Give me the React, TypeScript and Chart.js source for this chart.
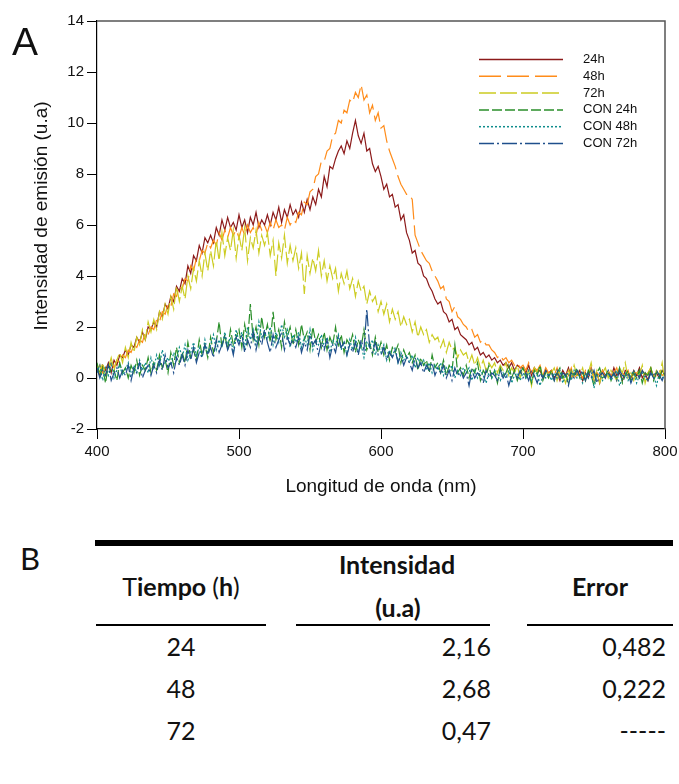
import React, { useEffect, useRef } from "react";
import { Chart, registerables } from "chart.js";

Chart.register(...registerables);

// ---------------- Data ----------------
const WL_START = 400;
const WL_STEP = 2;

const SERIES_LABELS = ["24h", "48h", "72h", "CON 24h", "CON 48h", "CON 72h"];

const H24 = [
  0.4, 0.1, 0.5, 0.3, 0.6, 0.2, 0.7, 0.5, 0.9, 0.8,
  1.1, 0.9, 1.3, 1.2, 1.6, 1.4, 1.8, 1.5, 2.0, 1.9,
  2.2, 2.0, 2.6, 2.4, 2.9, 2.7, 3.2, 3.0, 3.6, 3.4,
  3.9, 3.7, 4.4, 4.1, 4.8, 4.6, 5.2, 4.9, 5.5, 5.3,
  5.6, 5.3, 5.9, 5.6, 6.2, 5.8, 6.3, 5.9, 6.1, 5.8,
  6.4, 5.9, 6.2, 5.7, 6.3, 6.0, 6.5, 5.9, 6.2, 6.0,
  6.4, 6.0, 6.5, 6.2, 6.7, 6.1, 6.6, 6.3, 6.8, 6.4,
  6.6, 6.3, 6.9, 6.5, 7.0, 6.6, 7.1, 6.8, 7.4, 7.1,
  7.9, 7.5, 8.3, 8.2, 8.6, 8.9, 9.1, 8.8, 9.3, 9.0,
  9.6, 10.1, 9.5, 9.2, 9.6, 8.9, 9.0, 8.4, 8.1, 8.3,
  7.9, 7.4, 7.6, 7.1, 7.2, 6.7, 6.8, 6.2, 6.4, 5.7,
  5.4, 4.9, 5.0, 4.5, 4.4, 4.0, 3.9, 3.6, 3.4, 3.1,
  2.9, 3.0, 2.6, 2.5, 2.2, 2.3, 1.9, 2.0, 1.7, 1.6,
  1.5, 1.3, 1.4, 1.1, 1.2, 0.9, 1.0, 0.8, 0.9, 0.7,
  0.8, 0.6, 0.7, 0.5, 0.6, 0.4, 0.6, 0.3, 0.5, 0.4,
  0.4, 0.2, 0.5, 0.1, 0.4, 0.2, 0.3, 0.0, 0.3, 0.2,
  0.3, 0.0, 0.2, -0.1, 0.3, 0.1, 0.4, 0.0, 0.2, 0.1,
  0.3, -0.1, 0.2, 0.0, 0.4, 0.1, 0.2, -0.2, 0.3, 0.1,
  0.2, 0.0, 0.4, 0.1, 0.2, -0.1, 0.3, 0.2, 0.0, 0.3,
  0.1, 0.4, 0.0, 0.2, -0.1, 0.3, 0.1, 0.2, 0.0, 0.3,
  0.1,
];

const H48 = [
  0.3, 0.5, 0.2, 0.4, 0.3, 0.6, 0.4, 0.7, 0.6, 0.9,
  0.8, 1.1, 1.0, 1.3, 1.2, 1.5, 1.4, 1.8, 1.7, 2.0,
  1.9, 2.3, 2.2, 2.6, 2.5, 2.9, 2.8, 3.3, 3.2, 3.6,
  3.5, 3.9, 3.8, 4.4, 4.2, 4.7, 4.6, 5.0, 4.9, 5.3,
  5.1, 5.4, 5.2, 5.7, 5.4, 5.8, 5.5, 5.9, 5.6, 5.8,
  5.5, 5.9, 5.6, 6.0, 5.7, 5.9, 5.6, 6.1, 5.8, 6.0,
  5.7, 6.1, 5.8, 6.2, 5.9, 6.0, 5.8, 6.3, 6.0, 6.2,
  6.1, 6.5, 6.4, 6.9, 6.8, 7.3, 7.4, 7.9, 8.0, 8.5,
  8.5, 8.9, 9.0, 9.5, 9.6, 10.1, 10.0, 10.5, 10.4, 10.9,
  10.8, 11.2, 11.0, 11.5, 10.9, 11.1, 10.4, 10.7, 10.1, 10.4,
  9.8, 9.9, 9.3, 8.9, 8.6, 8.3, 7.9, 7.6, 7.4, 7.2,
  7.2, 7.0, 5.6, 5.3, 5.0, 4.8, 4.6, 4.5, 4.2, 4.0,
  3.8, 3.5, 3.6, 3.1, 3.0, 2.6, 2.8, 2.4, 2.3, 2.1,
  2.0, 1.8, 1.9, 1.6, 1.7, 1.4, 1.5, 1.3, 1.3, 1.1,
  1.0, 0.8, 0.9, 0.7, 0.8, 0.6, 0.7, 0.5, 0.6, 0.4,
  0.5, 0.3, 0.6, 0.2, 0.4, 0.3, 0.5, 0.1, 0.4, 0.2,
  0.3, 0.1, 0.4, 0.0, 0.2, 0.3, 0.1, 0.4, -0.1, 0.2,
  0.2, 0.0, 0.3, 0.1, 0.4, -0.1, 0.2, 0.1, 0.3, 0.0,
  0.3, 0.1, 0.2, 0.4, 0.0, 0.2, 0.1, 0.3, -0.1, 0.2,
  0.2, 0.0, 0.3, 0.1, 0.2, 0.4, 0.0, 0.1, 0.3, 0.1,
  0.2,
];

const H72 = [
  0.5, 0.2, 0.6, 0.1, 0.4, 0.8, 0.3, 0.7, 1.0, 0.6,
  1.2, 0.8, 1.4, 1.0, 1.6, 1.3, 1.9, 1.5, 2.2, 1.8,
  2.3, 1.9, 2.6, 2.3, 2.9, 2.5, 3.2, 2.7, 3.6, 3.0,
  3.6, 3.1, 4.0, 3.5, 4.3, 3.8, 4.6, 4.0, 4.9, 4.2,
  5.0, 4.4, 5.4, 4.6, 5.7, 4.8, 5.5, 5.0, 5.8, 4.7,
  5.6, 5.0, 5.9, 4.6, 5.5, 5.1, 5.8, 4.9, 5.6, 5.2,
  5.7, 4.8, 5.4, 4.0, 5.3, 4.7, 5.6, 4.5, 5.2, 4.6,
  5.1, 4.3, 4.9, 3.3, 4.8, 4.1, 4.7, 4.2, 5.0, 4.0,
  4.6, 3.8, 4.4, 3.9, 4.3, 3.4, 4.1, 3.7, 4.2, 3.5,
  3.9, 3.2, 3.8, 3.4, 3.6, 2.9, 3.4, 3.0, 3.2, 2.6,
  3.0, 2.5, 2.9, 2.2, 2.7, 2.3, 2.6, 2.0, 2.4, 2.1,
  2.3, 1.8, 2.2, 1.6, 2.0, 1.7, 1.9, 1.4, 1.7, 1.5,
  1.6, 1.2, 1.5, 1.0, 1.4, 1.1, 1.2, 0.8, 1.1, 0.9,
  1.0, 0.6, 0.9, 0.5, 0.8, 0.4, 0.7, 0.3, 0.6, 0.4,
  0.6, 0.2, 0.5, 0.3, 0.6, 0.1, 0.4, 0.2, 0.5, 0.0,
  0.4, 0.1, 0.3, -0.3, 0.4, 0.2, 0.5, 0.0, 0.3, 0.1,
  0.2, 0.4, -0.1, 0.3, 0.1, -0.2, 0.3, 0.0, 0.5, 0.1,
  0.1, 0.4, -0.1, 0.2, 0.6, 0.0, 0.3, -0.2, 0.2, 0.4,
  0.0, 0.3, 0.1, -0.1, 0.4, 0.2, 0.6, 0.0, 0.2, -0.1,
  0.3, 0.1, 0.5, -0.2, 0.2, 0.4, 0.0, 0.3, 0.1, 0.6,
  -0.2,
];

const CON24 = [
  0.6, 0.1, 0.4, -0.2, 0.5, 0.2, 0.3, -0.1, 0.6, 0.2,
  0.4, 0.0, 0.5, 0.2, 0.7, 0.1, 0.5, 0.3, 0.8, 0.2,
  0.6, 0.3, 0.9, 0.4, 0.7, 0.2, 1.0, 0.5, 1.2, 0.6,
  1.0, 0.6, 1.4, 0.8, 1.1, 0.7, 1.5, 0.9, 1.3, 0.8,
  1.6, 1.0, 1.4, 2.2, 1.2, 1.7, 1.1, 1.9, 1.3, 1.6,
  1.9, 1.2, 2.1, 1.4, 2.9, 1.5, 2.0, 1.3, 2.4, 1.6,
  2.1, 1.4, 2.6, 1.5, 1.9, 1.2, 2.2, 1.6, 2.0, 1.3,
  1.9, 1.3, 2.1, 1.5, 1.8, 1.1, 2.0, 1.4, 1.7, 1.2,
  1.8, 1.1, 1.6, 1.3, 2.0, 1.2, 1.7, 1.0, 1.5, 1.3,
  1.7, 1.0, 1.5, 1.2, 1.9, 1.1, 1.4, 0.9, 1.6, 1.0,
  1.4, 0.9, 1.3, 0.7, 1.2, 1.0, 1.3, 0.6, 1.1, 0.8,
  1.0, 0.6, 0.9, 0.3, 0.8, 0.5, 0.7, 0.2, 0.9, 0.4,
  0.6, 0.2, 0.7, 0.1, 0.5, 0.3, 1.3, 0.2, 0.4, 0.1,
  0.5, 0.0, 0.4, 0.2, 0.6, -0.1, 0.3, 0.1, 0.5, 0.0,
  0.3, -0.2, 0.4, 0.1, 0.2, 0.5, 0.0, 0.3, -0.1, 0.2,
  0.4, 0.0, 0.2, -0.2, 0.3, 0.1, 0.5, -0.1, 0.2, 0.0,
  0.3, -0.1, 0.2, 0.4, 0.0, 0.2, -0.2, 0.3, 0.1, 0.4,
  0.0, 0.2, -0.1, 0.3, 0.1, -0.3, 0.2, 0.4, 0.0, 0.1,
  0.3, -0.1, 0.2, 0.0, 0.4, -0.2, 0.1, 0.3, -0.1, 0.2,
  0.0, 0.3, -0.2, 0.2, 0.1, 0.4, -0.1, 0.2, 0.0, 0.3,
  0.1,
];

const CON48 = [
  0.2, 0.5, -0.1, 0.4, 0.1, 0.6, 0.0, 0.3, 0.5, 0.1,
  0.3, 0.6, 0.1, 0.5, 0.2, 0.7, 0.3, 0.6, 0.2, 0.8,
  0.4, 0.9, 0.5, 1.1, 0.6, 0.8, 0.5, 1.0, 0.7, 1.2,
  0.8, 1.3, 0.7, 1.0, 1.4, 0.9, 1.2, 0.8, 1.5, 1.0,
  1.3, 1.7, 1.1, 1.5, 1.2, 1.8, 1.3, 1.6, 1.0, 1.9,
  1.4, 1.8, 1.2, 2.0, 1.5, 1.9, 1.3, 2.2, 1.6, 1.8,
  1.5, 2.0, 1.3, 1.8, 1.4, 2.1, 1.6, 1.9, 1.2, 1.7,
  1.4, 1.8, 1.2, 1.6, 1.3, 1.9, 1.1, 1.5, 1.3, 1.7,
  1.2, 1.6, 1.0, 1.5, 1.3, 1.7, 1.1, 1.4, 0.9, 1.5,
  1.1, 1.6, 1.0, 1.3, 0.8, 1.4, 1.2, 1.5, 0.9, 1.3,
  1.0, 1.3, 0.7, 1.1, 0.8, 1.2, 0.6, 1.0, 0.7, 0.9,
  0.6, 0.9, 0.4, 0.8, 0.5, 0.7, 0.3, 0.6, 0.2, 0.5,
  0.3, 0.6, 0.1, 0.4, 0.2, 0.5, 0.0, 0.3, 0.1, 0.4,
  0.2, 0.4, -0.1, 0.3, 0.0, 0.3, 0.1, -0.2, 0.2, 0.0,
  0.3, 0.1, -0.1, 0.2, 0.0, 0.3, -0.2, 0.1, 0.2, -0.1,
  0.2, 0.0, 0.3, -0.1, 0.1, 0.2, -0.3, 0.1, 0.0, 0.2,
  -0.1, 0.2, 0.0, 0.3, -0.2, 0.1, 0.2, -0.1, 0.3, 0.0,
  0.1, -0.2, 0.2, 0.0, 0.3, -0.4, 0.1, 0.2, -0.1, 0.1,
  0.2, -0.1, 0.1, 0.3, -0.3, 0.0, 0.2, -0.1, 0.1, 0.3,
  -0.2, 0.1, 0.2, 0.0, -0.1, 0.2, 0.1, -0.3, 0.2, 0.0,
  0.1,
];

const CON72 = [
  0.4, 0.0, 0.3, 0.1, 0.5, -0.1, 0.2, 0.4, 0.0, 0.3,
  0.1, 0.5, -0.1, 0.4, 0.2, 0.6, 0.0, 0.3, 0.5, 0.1,
  0.5, 0.2, 0.7, 0.3, 0.9, 0.4, 0.6, 0.2, 0.8, 0.5,
  0.9, 0.5, 1.1, 0.7, 1.2, 0.6, 1.0, 0.8, 1.3, 0.9,
  1.2, 0.8, 1.5, 1.0, 1.3, 1.6, 1.1, 1.4, 0.9, 1.6,
  1.3, 1.7, 1.0, 1.5, 1.2, 1.8, 1.1, 1.6, 1.3, 1.9,
  1.4, 1.0, 1.7, 1.2, 1.5, 1.8, 1.1, 1.6, 1.3, 1.5,
  1.2, 1.6, 1.0, 1.4, 1.1, 1.7, 1.3, 1.5, 0.9, 1.4,
  1.1, 1.5, 0.8, 1.3, 1.0, 1.6, 1.2, 1.4, 0.9, 1.3,
  1.0, 1.4, 0.9, 1.5, 1.1, 2.7, 1.2, 1.0, 1.4, 0.9,
  0.9, 1.2, 0.7, 1.0, 0.8, 1.1, 0.6, 0.9, 0.5, 0.8,
  0.6, 0.3, 0.8, 0.4, 0.6, 0.2, 0.5, 0.3, 0.6, 0.1,
  0.4, 0.2, 0.5, 0.0, 0.3, -0.1, 0.4, 0.1, 0.3, 0.0,
  0.2, -0.3, 0.3, 0.0, 0.2, 0.1, -0.2, 0.3, 0.0, 0.2,
  0.1, -0.1, 0.3, 0.0, 0.2, -0.3, 0.1, 0.2, 0.0, 0.3,
  0.0, 0.2, -0.1, 0.3, 0.1, -0.2, 0.2, 0.0, 0.3, 0.1,
  0.2, -0.1, 0.3, 0.0, 0.2, 0.1, -0.3, 0.2, 0.0, 0.3,
  0.1, 0.3, -0.1, 0.2, 0.0, 0.3, -0.2, 0.1, 0.2, 0.0,
  0.3, 0.0, 0.2, -0.1, 0.3, 0.1, 0.0, 0.2, -0.2, 0.1,
  0.2, 0.0, 0.3, 0.1, -0.1, 0.2, 0.0, 0.3, 0.1, -0.1,
  0.2,
];

const SERIES_VALUES = [H24, H48, H72, CON24, CON48, CON72];
const SERIES_COLORS = ["#8c1a1a", "#ff8c1a", "#cccc22", "#2a8f2a", "#0f8c8c", "#1f4f8c"];
const SERIES_DASHES: number[][] = [[], [22, 6], [17, 4], [10, 3], [2, 2], [15, 3, 2, 3]];

const WAVELENGTHS = H24.map((_, i) => WL_START + WL_STEP * i);

const X_TICKS = [400, 500, 600, 700, 800];
const Y_TICKS = [-2, 0, 2, 4, 6, 8, 10, 12, 14];
const X_TITLE = "Longitud de onda (nm)";
const Y_TITLE = "Intensidad de emisión (u.a)";

const TABLE_TIMES = ["24", "48", "72"];
const TABLE_INTENSITY = ["2,16", "2,68", "0,47"];
const TABLE_ERROR = ["0,482", "0,222", "-----"];

// ---------------- Styles ----------------
const SANS = '"Liberation Sans", Arial, Helvetica, sans-serif';
const TABLE_FONT = 'Lato, "Open Sans", "Liberation Sans", sans-serif';

const decorPlugin = {
  id: "decor",
  afterDraw(chart: any) {
    const { ctx, chartArea: a } = chart;
    ctx.save();
    // top & right frame
    ctx.strokeStyle = "#555";
    ctx.lineWidth = 1.5;
    ctx.beginPath();
    ctx.moveTo(a.left, a.top);
    ctx.lineTo(a.right, a.top);
    ctx.lineTo(a.right, a.bottom);
    ctx.stroke();
    // legend
    chart.data.datasets.forEach((ds: any, i: number) => {
      const y = a.top + 38.5 + i * 16.8;
      ctx.strokeStyle = ds.borderColor;
      ctx.lineWidth = 1.5;
      ctx.setLineDash(ds.borderDash || []);
      ctx.beginPath();
      ctx.moveTo(a.left + 382, y);
      ctx.lineTo(a.left + 466, y);
      ctx.stroke();
      ctx.setLineDash([]);
      ctx.fillStyle = "#111";
      ctx.font = `13px ${SANS}`;
      ctx.textAlign = "left";
      ctx.textBaseline = "middle";
      ctx.fillText(ds.label, a.left + 486, y);
    });
    // y title
    ctx.translate(42, 216);
    ctx.rotate(-Math.PI / 2);
    ctx.fillStyle = "#111";
    ctx.font = `19px ${SANS}`;
    ctx.textAlign = "center";
    ctx.textBaseline = "middle";
    ctx.fillText(Y_TITLE, 0, 0);
    ctx.restore();
  },
};

export default function App() {
  const canvasRef = useRef<HTMLCanvasElement>(null);

  useEffect(() => {
    const datasets = SERIES_LABELS.map((label, s) => ({
      label,
      data: SERIES_VALUES[s].map((v, i) => ({ x: WAVELENGTHS[i], y: v })),
      borderColor: SERIES_COLORS[s],
      backgroundColor: SERIES_COLORS[s],
      borderDash: SERIES_DASHES[s],
      borderWidth: 1.2,
      pointRadius: 0,
      tension: 0,
      fill: false,
      order: SERIES_LABELS.length - 1 - s,
    }));

    const chart = new Chart(canvasRef.current as HTMLCanvasElement, {
      type: "line",
      data: { datasets },
      options: {
        responsive: false,
        devicePixelRatio: 1,
        animation: false,
        layout: { padding: { left: 0, right: 14, top: 21, bottom: 0 } },
        plugins: { legend: { display: false }, tooltip: { enabled: false } },
        scales: {
          x: {
            type: "linear",
            min: 400,
            max: 800,
            afterBuildTicks: (scale: any) => {
              scale.ticks = X_TICKS.map((v) => ({ value: v }));
            },
            afterFit: (scale: any) => {
              scale.height = 71;
              scale.paddingLeft = 0;
              scale.paddingRight = 0;
            },
            ticks: {
              color: "#111",
              font: { family: SANS, size: 15 },
              padding: 4,
              maxRotation: 0,
              callback: (v: any) => String(v),
            },
            grid: {
              drawOnChartArea: false,
              drawTicks: true,
              tickLength: 10,
              tickColor: "#000",
              color: "#000",
            },
            border: { display: true, color: "#000", width: 1.2 },
            title: {
              display: true,
              text: X_TITLE,
              color: "#111",
              font: { family: SANS, size: 19 },
              padding: { top: 4, bottom: 2 },
            },
          },
          y: {
            type: "linear",
            min: -2,
            max: 14,
            afterBuildTicks: (scale: any) => {
              scale.ticks = Y_TICKS.map((v) => ({ value: v }));
            },
            afterFit: (scale: any) => {
              scale.width = 97;
              scale.paddingTop = 0;
              scale.paddingBottom = 0;
            },
            ticks: {
              color: "#111",
              font: { family: SANS, size: 15 },
              padding: 3,
              callback: (v: any) => String(v),
            },
            grid: {
              drawOnChartArea: false,
              drawTicks: true,
              tickLength: 10,
              tickColor: "#000",
              color: "#000",
            },
            border: { display: true, color: "#000", width: 1.2 },
          },
        },
      },
      plugins: [decorPlugin],
    } as any);

    return () => chart.destroy();
  }, []);

  const abs = (extra: React.CSSProperties): React.CSSProperties => ({
    position: "absolute",
    whiteSpace: "nowrap",
    lineHeight: 1,
    color: "#111",
    ...extra,
  });

  const rowCenters = [647, 689, 731];
  const TF = 25;

  return (
    <div
      style={{
        position: "absolute",
        left: 0,
        top: 0,
        width: 679,
        height: 784,
        background: "#fff",
        overflow: "hidden",
      }}
    >
      <canvas
        ref={canvasRef}
        width={679}
        height={500}
        style={{ position: "absolute", left: 0, top: 0, width: 679, height: 500, display: "block" }}
      />
      <div style={abs({ left: 12, top: 22, fontFamily: SANS, fontSize: 39 })}>A</div>

      <div style={abs({ left: 20, top: 543, fontFamily: TABLE_FONT, fontSize: 31 })}>B</div>

      <div style={{ position: "absolute", left: 95, top: 540, width: 578, height: 6, background: "#000" }} />
      <div style={{ position: "absolute", left: 96, top: 624, width: 170, height: 2, background: "#000" }} />
      <div style={{ position: "absolute", left: 296, top: 624, width: 194, height: 2, background: "#000" }} />
      <div style={{ position: "absolute", left: 527, top: 624, width: 146, height: 2, background: "#000" }} />

      <div
        style={abs({
          left: 181,
          top: 574,
          transform: "translateX(-50%)",
          fontFamily: TABLE_FONT,
          fontSize: TF,
          fontWeight: 700,
        })}
      >
        <span style={{ fontWeight: 400 }}>T</span>iempo <span style={{ fontWeight: 400 }}>(</span>h
        <span style={{ fontWeight: 400 }}>)</span>
      </div>
      <div
        style={abs({
          left: 397,
          top: 552,
          transform: "translateX(-50%)",
          fontFamily: TABLE_FONT,
          fontSize: TF,
          fontWeight: 700,
        })}
      >
        Intensidad
      </div>
      <div
        style={abs({
          left: 398,
          top: 595,
          transform: "translateX(-50%)",
          fontFamily: TABLE_FONT,
          fontSize: TF,
          fontWeight: 700,
        })}
      >
        (u.a)
      </div>
      <div
        style={abs({
          left: 600,
          top: 574,
          transform: "translateX(-50%)",
          fontFamily: TABLE_FONT,
          fontSize: TF,
          fontWeight: 700,
        })}
      >
        Error
      </div>

      {TABLE_TIMES.map((t, i) => (
        <React.Fragment key={t}>
          <div
            style={abs({
              left: 181,
              top: rowCenters[i] - 13,
              transform: "translateX(-50%)",
              fontFamily: TABLE_FONT,
              fontSize: TF,
            })}
          >
            {t}
          </div>
          <div
            style={abs({
              right: 679 - 491,
              top: rowCenters[i] - 13,
              fontFamily: TABLE_FONT,
              fontSize: TF,
              textAlign: "right",
            })}
          >
            {TABLE_INTENSITY[i]}
          </div>
          <div
            style={abs({
              right: 679 - 666,
              top: rowCenters[i] - 13,
              fontFamily: TABLE_FONT,
              fontSize: TF,
              textAlign: "right",
            })}
          >
            {TABLE_ERROR[i]}
          </div>
        </React.Fragment>
      ))}
    </div>
  );
}
